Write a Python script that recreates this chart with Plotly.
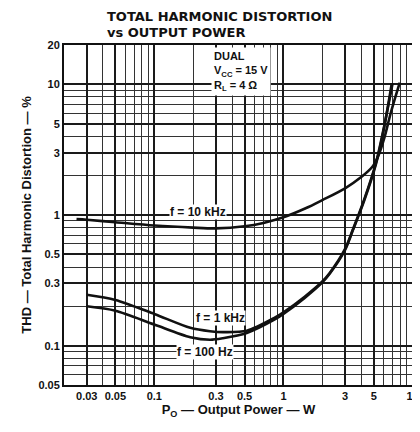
import plotly.graph_objects as go

# Data
p_10k = [0.025, 0.03, 0.05, 0.1, 0.2, 0.3, 0.5, 0.7, 1, 1.5, 2, 3, 4, 4.9, 5.4, 6, 6.7, 7.3, 7.95]
thd_10k = [0.93, 0.92, 0.88, 0.83, 0.8, 0.79, 0.82, 0.87, 0.96, 1.13, 1.3, 1.6, 1.95, 2.35, 2.8, 3.8, 5.8, 7.8, 10.3]

p_1k = [0.03, 0.05, 0.1, 0.19, 0.27, 0.34, 0.52, 0.85, 1.0, 1.46, 2.0, 2.28, 3.0, 3.44, 4.2, 5.2, 6, 7]
thd_1k = [0.245, 0.224, 0.175, 0.137, 0.129, 0.127, 0.13, 0.163, 0.18, 0.237, 0.31, 0.36, 0.55, 0.77, 1.3, 2.5, 4.7, 10.2]

p_100 = [0.03, 0.05, 0.1, 0.19, 0.27, 0.34, 0.52, 0.85, 1.0, 1.46, 2.0, 2.28, 3.0, 3.44, 4.2, 5.2, 6, 6.9]
thd_100 = [0.2, 0.185, 0.145, 0.116, 0.111, 0.114, 0.125, 0.158, 0.175, 0.232, 0.305, 0.355, 0.54, 0.76, 1.27, 2.45, 4.6, 10.2]

x_ticks = [0.03, 0.05, 0.1, 0.3, 0.5, 1, 3, 5, 10]
x_tick_text = ["0.03", "0.05", "0.1", "0.3", "0.5", "1", "3", "5", "10"]
y_ticks = [0.05, 0.1, 0.3, 0.5, 1, 3, 5, 10, 20]
y_tick_text = ["0.05", "0.1", "0.3", "0.5", "1", "3", "5", "10", "20"]

FONT = "Liberation Sans Narrow, Liberation Sans, Arial"

fig = go.Figure()
for px, py in [(p_10k, thd_10k), (p_1k, thd_1k), (p_100, thd_100)]:
    fig.add_trace(go.Scatter(x=px, y=py, mode="lines",
                             line=dict(color="#111", width=2.6, shape="spline", smoothing=0.8),
                             showlegend=False, hoverinfo="skip"))

axis_common = dict(type="log", showline=True, linecolor="#111", linewidth=2, mirror=True,
                   ticks="", showgrid=True, gridcolor="#1a1a1a", gridwidth=1.8,
                   tickfont=dict(family=FONT, size=11, color="#111", weight="bold"),
                   minor=dict(showgrid=True, dtick="D1", gridcolor="#333", gridwidth=1.3),
                   zeroline=False, automargin=False, ticklabeloverflow="allow")

fig.update_xaxes(**axis_common, range=[-1.699, 1.003], tickvals=x_ticks, ticktext=x_tick_text,
                 title=dict(text="P<sub>O</sub> — Output Power — W",
                            font=dict(family=FONT, size=13, color="#111", weight="bold"), standoff=2))
fig.update_yaxes(**axis_common, range=[-1.301, 1.301], tickvals=y_ticks, ticktext=y_tick_text,
                 title=dict(text="THD — Total Harmonic Distortion — %",
                            font=dict(family=FONT, size=13, color="#111", weight="bold"), standoff=4))

label_font = dict(family=FONT, size=12, color="#111", weight="bold")
fig.add_annotation(x=-0.663, y=0.02, xref="x", yref="y", text="f = 10 kHz", showarrow=False,
                   font=label_font, bgcolor="white", borderpad=0)
fig.add_annotation(x=-0.49, y=-0.79, xref="x", yref="y", text="f = 1 kHz", showarrow=False,
                   font=label_font, bgcolor="white", borderpad=0)
fig.add_annotation(x=-0.608, y=-1.046, xref="x", yref="y", text="f = 100 Hz", showarrow=False,
                   font=label_font, bgcolor="white", borderpad=0)

fig.add_annotation(x=0.421, y=0.995, xref="paper", yref="paper", xanchor="left", yanchor="top",
                   text="DUAL<br>V<sub>CC</sub> = 15 V<br>R<sub>L</sub> = 4 Ω", align="left",
                   showarrow=False, font=dict(family=FONT, size=11, color="#111", weight="bold"),
                   bgcolor="white", borderpad=2)

title_font = dict(family="DejaVu Sans, Liberation Sans", size=13, color="#111", weight="bold")
fig.add_annotation(x=0.117, y=1.0, xref="paper", yref="paper", xanchor="left", yanchor="middle",
                   yshift=29, text="TOTAL HARMONIC DISTORTION", showarrow=False, font=title_font)
fig.add_annotation(x=0.117, y=1.0, xref="paper", yref="paper", xanchor="left", yanchor="middle",
                   yshift=13, text="vs OUTPUT POWER", showarrow=False, font=title_font)

fig.update_layout(width=412, height=424, margin=dict(l=56, r=7, t=37, b=47),
                  paper_bgcolor="white", plot_bgcolor="white")

fig.write_html("out.html")
